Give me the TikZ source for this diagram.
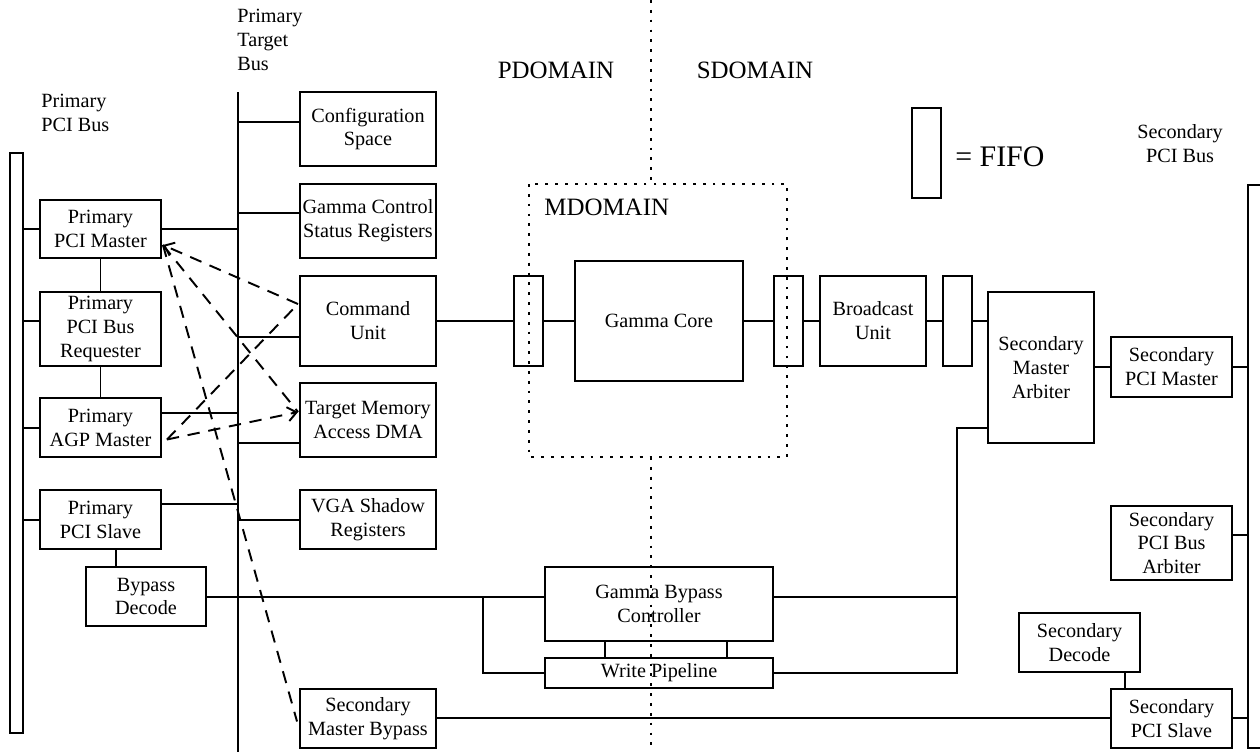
\documentclass[tikz,border=0pt]{standalone}
\usepackage{fontspec}
\setmainfont{Liberation Serif}
\usetikzlibrary{arrows.meta,calc}
\newcommand\bxfont{\fontsize{11.5}{13.6}\selectfont}
\newcommand\dmfont{\fontsize{14.2}{16}\selectfont}
\newcommand\ffont{\fontsize{17}{19}\selectfont}
% \blk[style]{x1}{y1}{x2}{y2}{name} {text}; -- a block given by its corners
\newcommand\blk[6][box]{\node[#1, minimum width={(#4-#2)*0.02cm},
  minimum height={(#5-#3)*0.02cm}] (#6) at ({(#2+#4)/2},{(#3+#5)/2})}
\tikzset{
  box/.style={draw, line width=1.1pt, inner sep=0pt, align=center, font=\bxfont},
  fifo/.style={draw, line width=1.1pt, inner sep=0pt},
  wire/.style={line width=1.1pt},
  link/.style={line width=1.1pt, dash pattern=on 7pt off 5pt},
  barbend/.style={-{Straight Barb[length=5pt,width=8pt]}},
  dotline/.style={line width=1.6pt, dash pattern=on 1.6pt off 4pt},
  caption/.style={inner sep=0pt, font=\bxfont},
}
\begin{document}
\begin{tikzpicture}[x=0.02cm, y=-0.02cm]
\clip (0,0) rectangle (1260,751);

% buses
\blk[fifo]{10}{153}{23}{733}{pbus} {};
\blk[fifo]{1248}{185}{1280}{748}{sbus} {};
\coordinate (tbtop) at (238,92);
\coordinate (tbbot) at (238,760);
\draw[wire] (tbtop) -- (tbbot);
\coordinate (tb) at (238,0);

% bus labels
\node[caption, anchor=west, align=left] (ptbl) at (237,40) {Primary\\Target\\Bus};
\node[caption, anchor=west, align=left] (ppbl) at (41,113) {Primary\\PCI Bus};
\node[caption, align=center] (spbl) at (1180,144) {Secondary\\PCI Bus};

% clock domains
\node[caption, font=\dmfont] (pdom) at (556,70) {PDOMAIN};
\node[caption, font=\dmfont] (sdom) at (755,70) {SDOMAIN};
\draw[dotline] (529,184) rectangle (787,457);
\node[caption, font=\dmfont, anchor=west] (mdom) at (544,207) {MDOMAIN};
\draw[dotline] (651,0) -- (651,184);
\draw[dotline] (651,457) -- (651,751);

% legend
\blk[fifo]{912}{108}{941}{198}{lfifo} {};
\node[caption, font=\ffont, anchor=west] (lfifot) at (955,157) {= FIFO};

% primary side blocks
\blk{40}{200}{161}{258}{pcim} {Primary\\PCI Master};
\blk{40}{292}{161}{366}{preq} {Primary\\PCI Bus\\Requester};
\blk{40}{398}{161}{457}{pagp} {Primary\\AGP Master};
\blk{40}{490}{161}{549}{pslv} {Primary\\PCI Slave};
\blk{86}{567}{206}{626}{bypd} {Bypass\\Decode};

\blk{300}{92}{436}{166}{cfg} {Configuration\\Space};
\blk{300}{184}{436}{258}{gcsr} {Gamma Control\\Status Registers};
\blk{300}{276}{436}{366}{cmd} {Command\\Unit};
\blk{300}{383}{436}{457}{tma} {Target Memory\\Access DMA};
\blk{300}{490}{436}{549}{vga} {VGA Shadow\\Registers};
\blk{300}{689}{436}{748}{smb} {Secondary\\Master Bypass};

% core path
\blk[fifo]{514}{276}{543}{366}{fifo1} {};
\blk{575}{261}{743}{381}{core} {Gamma Core};
\blk[fifo]{774}{276}{803}{366}{fifo2} {};
\blk{820}{276}{926}{366}{bcast} {Broadcast\\Unit};
\blk[fifo]{943}{276}{972}{366}{fifo3} {};

% bypass path
\blk{545}{567}{773}{641}{gbc} {Gamma Bypass\\Controller};
\blk{545}{658}{773}{688}{wp} {Write Pipeline};

% secondary side blocks
\blk{988}{292}{1094}{443}{sma} {Secondary\\Master\\Arbiter};
\blk{1111}{337}{1232}{397}{spm} {Secondary\\PCI Master};
\blk{1111}{506}{1232}{580}{sarb} {Secondary\\PCI Bus\\Arbiter};
\blk{1019}{613}{1140}{672}{sdec} {Secondary\\Decode};
\blk{1111}{689}{1232}{748}{sslv} {Secondary\\PCI Slave};

% primary PCI bus taps
\draw[wire] (pcim.west) -- (pbus.east |- pcim.west);
\draw[wire] (preq.west |- 0,321) -- (pbus.east |- 0,321);
\draw[wire] (pagp.west |- 0,428) -- (pbus.east |- 0,428);
\draw[wire] (pslv.west |- 0,520) -- (pbus.east |- 0,520);
\draw[wire] (pcim.south) -- (preq.north);
\draw[wire] (preq.south) -- (pagp.north);
\draw[wire] (pslv.south -| 116,0) -- (bypd.north -| 116,0);

% primary target bus taps
\draw[wire] (pcim.east) -- (tb |- pcim.east);
\draw[wire] (pagp.east |- 0,413) -- (tb |- 0,413);
\draw[wire] (pslv.east |- 0,504) -- (tb |- 0,504);
\draw[wire] (cfg.west |- 0,122) -- (tb |- 0,122);
\draw[wire] (gcsr.west |- 0,213) -- (tb |- 0,213);
\draw[wire] (cmd.west |- 0,337) -- (tb |- 0,337);
\draw[wire] (tma.west |- 0,443) -- (tb |- 0,443);
\draw[wire] (vga.west |- 0,520) -- (tb |- 0,520);

% command path through the core
\draw[wire] (cmd.east) -- (fifo1.west);
\draw[wire] (fifo1.east) -- (core.west);
\draw[wire] (core.east) -- (fifo2.west);
\draw[wire] (fifo2.east) -- (bcast.west);
\draw[wire] (bcast.east) -- (fifo3.west);
\draw[wire] (fifo3.east) -- (sma.west |- fifo3.east);
\draw[wire] (sma.east |- spm.west) -- (spm.west);
\draw[wire] (spm.east) -- (sbus.west |- spm.east);

% bypass path
\coordinate (jl) at (483,0);
\coordinate (jr) at (957,0);
\coordinate (byp) at (0,597);
\coordinate (arbin) at (0,428);
\draw[wire] (bypd.east |- byp) -- (gbc.west |- byp);
\draw[wire] (jl |- byp) -- (jl |- wp.west) -- (wp.west);
\draw[wire] (gbc.east |- byp) -- (jr |- byp);
\draw[wire] (wp.east) -- (jr |- wp.east) -- (jr |- arbin) -- (sma.west |- arbin);
\draw[wire] (gbc.south -| 605,0) -- (wp.north -| 605,0);
\draw[wire] (gbc.south -| 727,0) -- (wp.north -| 727,0);

% secondary bus taps
\coordinate (sbyp) at (0,718);
\draw[wire] (sarb.east |- 0,535) -- (sbus.west |- 0,535);
\draw[wire] (sdec.south -| 1125,0) -- (sslv.north -| 1125,0);
\draw[wire] (sslv.east |- sbyp) -- (sbus.west |- sbyp);
\draw[wire] (smb.east |- sbyp) -- (sslv.west |- sbyp);

% control relations
\coordinate (pmx) at ($(pcim.east)+(1,16)$);
\coordinate (agx) at ($(pagp.east)+(5,12)$);
\coordinate (cux) at ($(cmd.north west)+(-1,29)$);
\coordinate (tmx) at ($(tma.west)+(-1,-8)$);
\draw[link, barbend] (cux) -- (pmx);
\draw[link] (pmx) -- (tmx);
\draw[link, barbend] (agx) -- (tmx);
\draw[link] (agx) -- (cux);
\draw[link] (pmx) -- ($(smb.west)+(-2,3)$);
\end{tikzpicture}
\end{document}
